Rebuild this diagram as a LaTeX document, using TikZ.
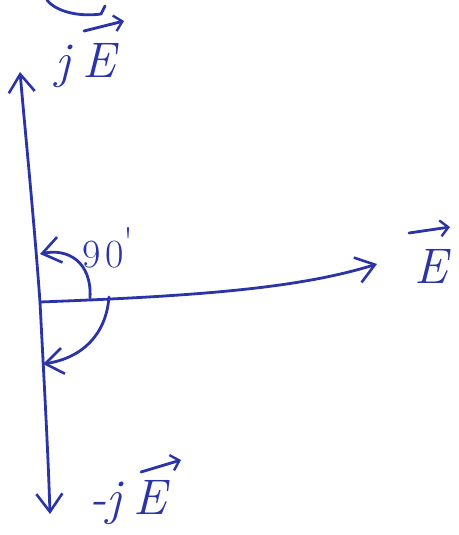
\documentclass[tikz,border=0pt]{standalone}
\usetikzlibrary{arrows.meta}
\definecolor{ink}{RGB}{42,52,168}
\begin{document}
\begin{tikzpicture}[x=1pt,y=-1pt,
  pen/.style={draw=ink,line width=2.8pt,line cap=round,line join=round},
  barb/.style={-{Straight Barb[length=18pt,width=26pt,line width=2.6pt]}},
  sbarb/.style={-{Straight Barb[length=8pt,width=16pt,line width=2.4pt]}},
  lbl/.style={text=ink,font=\fontsize{50}{52}\selectfont\itshape,inner sep=0pt}]
\useasboundingbox (0,0) rectangle (458,535);
\fill[white] (0,0) rectangle (458,535);
\coordinate (O) at (40,302);
\coordinate (top) at (20,72);
\coordinate (bot) at (50,514);
\coordinate (etip) at (377,264);
\draw[pen,barb] (O) .. controls (34,220) and (26,140) .. (top);
\draw[pen,barb] (O) .. controls (44,380) and (48,450) .. (bot);
\draw[pen,barb] (O) .. controls (200,296) and (300,288) .. (etip);
% arcs
\draw[pen,barb] (90,298) .. controls (92,262) and (68,248) .. (40,254);
\draw[pen,barb] (109,297) .. controls (106,335) and (82,358) .. (43,364);
% top stray curve
\draw[pen] (47,0) .. controls (56,12) and (80,17) .. (101,14) -- (105,6);
\draw[pen,sbarb] (84,31) -- (124,21);
% labels
\node[lbl] (jE) at (86,66) {j\kern12pt E};
\node[lbl] (Elab) at (431,266) {E};
\draw[pen,sbarb] (409,233) -- (450,227);
\node[lbl,font=\fontsize{40}{42}\selectfont] (ninety) at (108,248) {9\kern4pt 0\raisebox{12pt}{\textquotesingle}};
\node[lbl] (mjE) at (128,503) {-j\kern12pt E};
\draw[pen,sbarb] (141,472) -- (181,460);
\end{tikzpicture}
\end{document}
